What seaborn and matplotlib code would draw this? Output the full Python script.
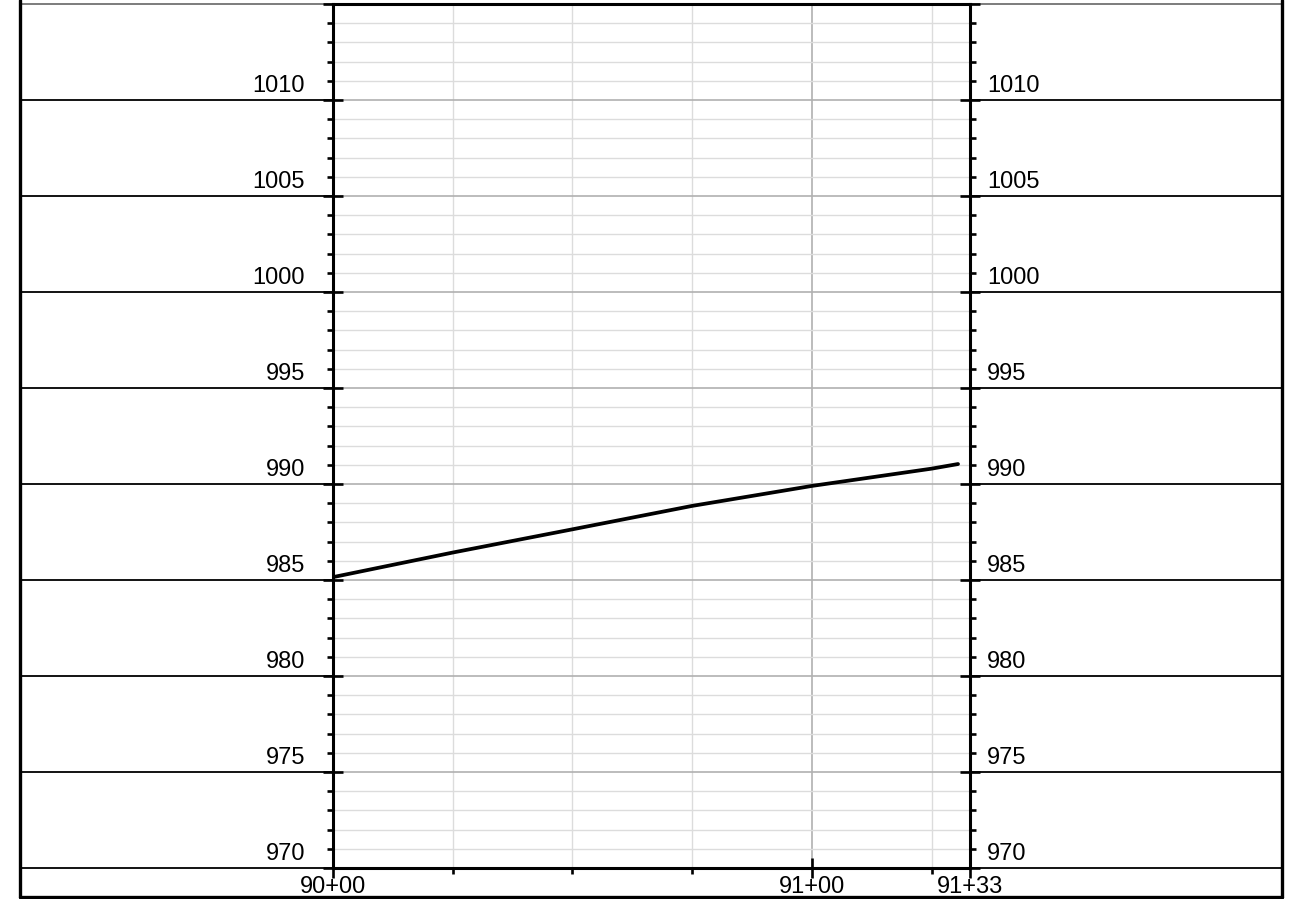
import matplotlib
matplotlib.use("Agg")
import matplotlib.pyplot as plt
from matplotlib.lines import Line2D
import seaborn as sns
import pandas as pd

# profile data (station offset in ft from 90+00, elevation in ft)
stations = [0, 25, 50, 75, 100, 125, 130.5]
elevations = [985.15, 986.43, 987.64, 988.86, 989.9, 990.8, 991.04]

station_ticks = [0, 100, 133]
station_labels = ["90+00", "91+00", "91+33"]
station_minor = [25, 50, 75, 125]
elev_labels = [970, 975, 980, 985, 990, 995, 1000, 1005, 1010]

sns.set_style("white")
plt.rcParams['font.family'] = ['Liberation Sans', 'DejaVu Sans']
plt.rcParams['text.color'] = 'black'

W, H = 1289, 899
fig = plt.figure(figsize=(W / 100, H / 100), dpi=100)
ax = fig.add_axes([333 / W, 1 - 868 / H, 637 / W, 864 / H])

df = pd.DataFrame({"station": stations, "elev": elevations})
sns.lineplot(data=df, x="station", y="elev", color="black", lw=2.7, ax=ax, zorder=5)

ax.set_xlim(0, 133)
ax.set_ylim(970, 1015)
ax.set_xlabel("")
ax.set_ylabel("")

ax.set_yticks(range(970, 1016, 5))
ax.set_yticks(range(970, 1016), minor=True)
ax.set_xticks(station_ticks)
ax.set_xticklabels(station_labels)
ax.set_xticks(station_minor, minor=True)

ax.grid(which="major", axis="both", color="#b0b0b0", lw=1.2)
ax.grid(which="minor", axis="both", color="#dcdcdc", lw=1.0)
ax.set_axisbelow(True)

for s in ax.spines.values():
    s.set_linewidth(2.2)
    s.set_color("black")

ax.tick_params(axis="y", which="major", left=True, right=True, direction="inout",
               length=15, width=1.9, color="black", labelleft=False)
ax.tick_params(axis="y", which="minor", left=True, right=True, direction="out",
               length=4.5, width=1.9, color="black")
ax.tick_params(axis="x", which="major", bottom=True, direction="inout",
               length=14, width=1.9, color="black", labelcolor="black",
               labelsize=17, pad=-1)
ax.tick_params(axis="x", which="minor", bottom=True, direction="out",
               length=4, width=1.9, color="black")

# outer elevation lines and labels
x_left = (20 - 333) / 637
x_right = (1282 - 333) / 637
tr = ax.get_yaxis_transform()
for e in elev_labels:
    ax.axhline(e, xmin=x_left, xmax=0, color="black", lw=1.3, clip_on=False)
    ax.axhline(e, xmin=1, xmax=x_right, color="black", lw=1.3, clip_on=False)
    ax.text(-0.044, e + 0.18, str(e), transform=tr, ha="right", va="bottom",
            fontsize=17, color="black", clip_on=False)
    ax.text(1.027, e + 0.18, str(e), transform=tr, ha="left", va="bottom",
            fontsize=17, color="black", clip_on=False)
ax.axhline(1015, xmin=x_left, xmax=x_right, color="#666666", lw=1.2,
           clip_on=False, zorder=0)

# drawing frame
yb = 1 - 897 / H
fig.add_artist(Line2D([20 / W, 1282 / W], [yb, yb], color="black", lw=2.4))
fig.add_artist(Line2D([20 / W, 20 / W], [yb, 1], color="black", lw=2.4))
fig.add_artist(Line2D([1282 / W, 1282 / W], [yb, 1], color="black", lw=2.4))

fig.savefig("out.png", dpi=100)
